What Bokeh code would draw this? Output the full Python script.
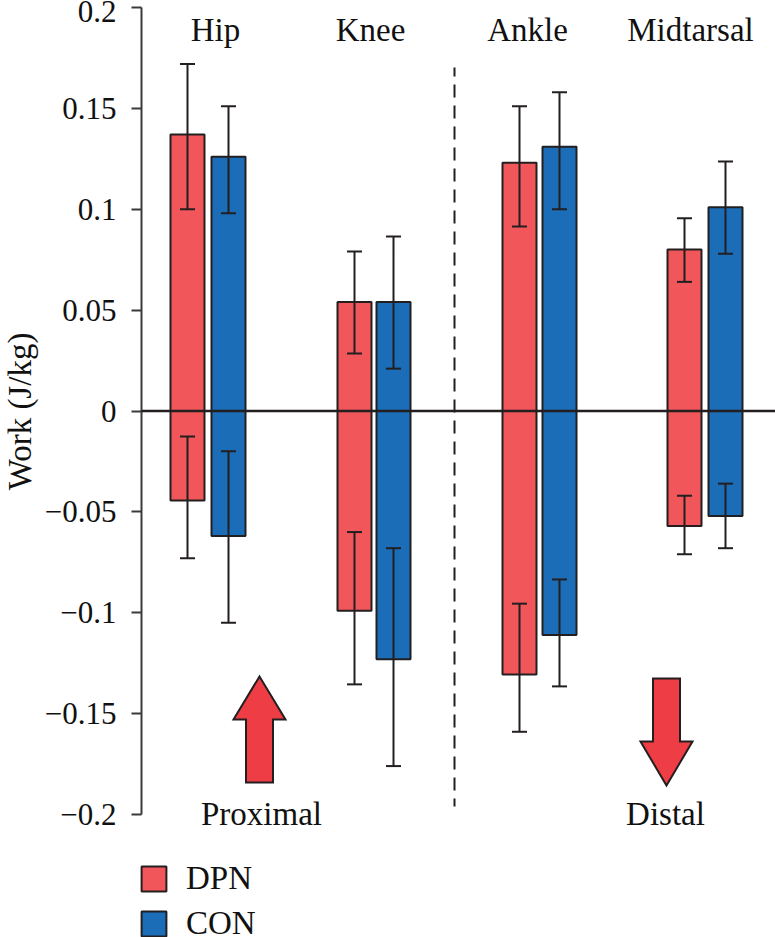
from bokeh.plotting import figure
from bokeh.models import (ColumnDataSource, FixedTicker, Label, Legend, LegendItem, LinearAxis, Range1d,
                          TeeHead, Whisker)
from bokeh.core.properties import value
from bokeh.embed import file_html
from bokeh.resources import INLINE

# ---- data ----
joints = ["Hip", "Knee", "Ankle", "Midtarsal"]
dpn_pos = [0.137, 0.054, 0.123, 0.080]
con_pos = [0.126, 0.054, 0.131, 0.101]
dpn_neg = [-0.0444, -0.099, -0.1306, -0.057]
con_neg = [-0.062, -0.123, -0.111, -0.052]
dpn_pos_hi = [0.172, 0.079, 0.151, 0.0955]
dpn_pos_lo = [0.100, 0.0285, 0.0915, 0.064]
con_pos_hi = [0.151, 0.0865, 0.158, 0.1237]
con_pos_lo = [0.098, 0.021, 0.100, 0.078]
dpn_neg_hi = [-0.0126, -0.060, -0.0955, -0.042]
dpn_neg_lo = [-0.073, -0.1355, -0.159, -0.071]
con_neg_hi = [-0.020, -0.068, -0.0835, -0.036]
con_neg_lo = [-0.105, -0.176, -0.1365, -0.068]
tick_values = [0.2, 0.15, 0.1, 0.05, 0, -0.05, -0.1, -0.15, -0.2]
tick_labels = ["0.2", "0.15", "0.1", "0.05", "0", "\u22120.05", "\u22120.1", "\u22120.15", "\u22120.2"]

# ---- layout & style ----
FONT = "Liberation Serif"
FS = "33px"
RED, BLUE, ARROW, INK = "#F1575A", "#1B6DB7", "#EF3D45", "#231F20"
dpn_x = [187, 354, 519, 684]
con_x = [228, 393, 559, 725]
label_x = [215, 370, 527, 690]
BAR_W = 34
Y_TOP, Y_BOT, LEFT, W, H = 7, 814, 141, 775, 937


def yv(px):  # pixel row -> y value, used only for annotations' layout
    return 0.2 - (px - Y_TOP) * 0.4 / (Y_BOT - Y_TOP)


p = figure(width=W, height=H, output_backend="svg", toolbar_location=None,
           x_range=Range1d(0, W), y_range=Range1d(yv(H), yv(0)),
           x_axis_location=None, y_axis_location=None,
           min_border_left=0, min_border_right=0, min_border_top=0, min_border_bottom=0)
p.grid.visible = False
p.outline_line_color = None
p.background_fill_color = "white"

ax = LinearAxis(fixed_location=LEFT, bounds=(-0.2, 0.2))
ax.ticker = FixedTicker(ticks=tick_values)
ax.major_label_overrides = dict(zip(tick_values, tick_labels))
ax.major_label_text_font = FONT
ax.major_label_text_font_size = "31px"
ax.major_label_text_color = "#111111"
ax.major_label_standoff = 15
ax.axis_line_color = "#3A3A3C"
ax.axis_line_width = 2
ax.major_tick_line_color = "#3A3A3C"
ax.major_tick_line_width = 2
ax.major_tick_out = 10
ax.major_tick_in = 0
ax.minor_tick_line_color = None
p.add_layout(ax, "left")


def bars(xs, top, color):
    return p.vbar(x=xs, bottom=0, top=top, width=BAR_W, fill_color=color,
                  line_color=INK, line_width=2)


r_dpn = bars(dpn_x, dpn_pos, RED)
bars(dpn_x, dpn_neg, RED)
r_con = bars(con_x, con_pos, BLUE)
bars(con_x, con_neg, BLUE)


def whisk(xs, hi, lo):
    src = ColumnDataSource(dict(x=xs, hi=hi, lo=lo))
    head = dict(size=15, line_color=INK, line_width=2)
    p.add_layout(Whisker(source=src, base="x", upper="hi", lower="lo", line_color=INK, level="overlay",
                         line_width=2, upper_head=TeeHead(**head), lower_head=TeeHead(**head)))


whisk(dpn_x, dpn_pos_hi, dpn_pos_lo)
whisk(con_x, con_pos_hi, con_pos_lo)
whisk(dpn_x, dpn_neg_hi, dpn_neg_lo)
whisk(con_x, con_neg_hi, con_neg_lo)

p.line([LEFT, W], [0, 0], line_color=INK, line_width=2.5, level="overlay")
p.line([454, 454], [yv(67), yv(806)], line_color=INK, line_width=2, line_dash="13 8", line_dash_offset=4)


def arrow(cx, tip, neck, end, head_half=26, shaft_half=13.5):
    xs = [cx, cx + head_half, cx + shaft_half, cx + shaft_half, cx - shaft_half, cx - shaft_half, cx - head_half]
    ys = [tip, neck, neck, end, end, neck, neck]
    p.patch(xs, [yv(v) for v in ys], fill_color=ARROW, line_color=INK, line_width=2, line_join="miter")


arrow(259, 676, 719, 782)
arrow(666, 785, 741, 678)

p.text(x=label_x, y=[yv(29)] * 4, text=joints, text_font=value(FONT), text_font_size=value(FS),
       text_align="center", text_baseline="middle", text_color="#111111")
for txt, cx in (("Proximal", 261), ("Distal", 665)):
    p.add_layout(Label(x=cx, y=yv(813), text=txt, text_font=FONT, text_font_size=FS,
                       text_align="center", text_baseline="middle", text_color="#111111"))
p.add_layout(Label(x=19, y=yv(411), text="Work (J/kg)", angle=90, angle_units="deg", text_font=FONT,
                   text_font_size="33px", text_align="center", text_baseline="middle", text_color="#111111"))

legend = Legend(items=[LegendItem(label="DPN", renderers=[r_dpn]), LegendItem(label="CON", renderers=[r_con])],
                location=(138, -5), orientation="vertical", margin=0, padding=0, spacing=8,
                glyph_width=31, glyph_height=31, label_standoff=17, label_text_font=FONT,
                label_text_font_size=FS, label_text_color="#111111", label_height=31,
                background_fill_alpha=0, border_line_color=None)
p.add_layout(legend)

open("out.html", "w").write(file_html(p, INLINE))
